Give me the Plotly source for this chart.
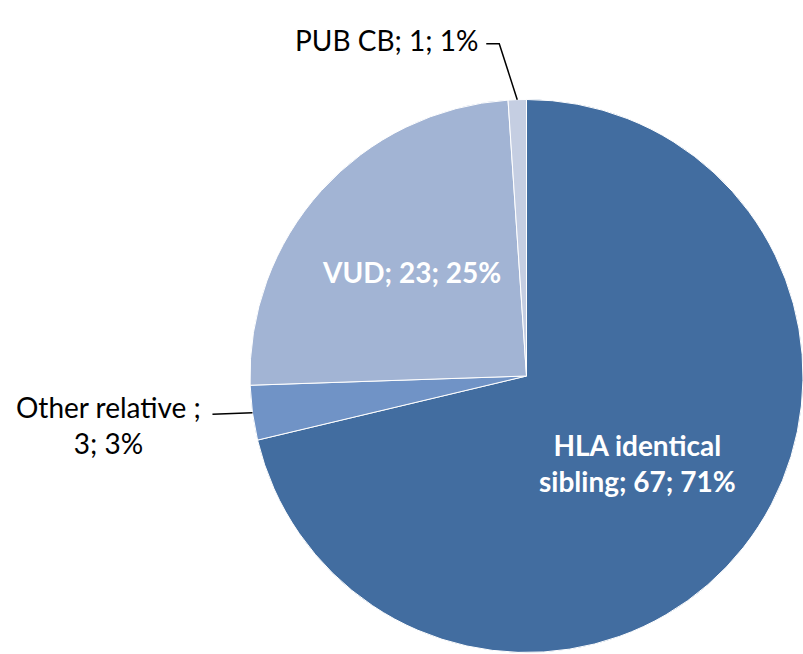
import math
import plotly.graph_objects as go

# ---- data ----
categories = ["HLA identical sibling", "Other relative ", "VUD", "PUB CB"]
values = [67, 3, 23, 1]
percents = [71, 3, 25, 1]
colors = ["#426DA0", "#7093C6", "#A2B4D4", "#C5CEE2"]

W, H = 803, 654
FONT = "Lato"

# pie placement (pixels)
left, top, right, bottom = 250, 98, 803, 654
cx, cy = (left + right) / 2, (top + bottom) / 2
R = min(right - left, bottom - top) / 2


def px(x):
    return x / W


def py(y):
    return 1 - y / H


fig = go.Figure(
    go.Pie(
        labels=categories,
        values=values,
        sort=False,
        direction="clockwise",
        rotation=0,
        marker=dict(colors=colors, line=dict(color="white", width=1)),
        textinfo="none",
        hoverinfo="label+value+percent",
        domain=dict(x=[px(left), px(right)], y=[py(bottom), py(top)]),
        showlegend=False,
    )
)

# mid-angles (clockwise from 12 o'clock) derived from data
total = sum(values)
mids = []
acc = 0
for v in values:
    mids.append((acc + v / 2) / total * 2 * math.pi)
    acc += v


def polar(a, r):
    return cx + r * math.sin(a), cy - r * math.cos(a)


texts = [f"{c.strip() if i != 1 else c}; {v}; {p}%" for i, (c, v, p) in enumerate(zip(categories, values, percents))]
texts[0] = texts[0].replace("identical ", "identical<br>")
texts[1] = texts[1].replace(" ; ", " ;<br>", 1)

annotations = []
shapes = []

# inside labels (HLA, VUD)
for i, rf in ((0, 0.51), (2, 0.56)):
    x, y = polar(mids[i], rf * R)
    annotations.append(dict(
        x=px(x), y=py(y), xref="paper", yref="paper", text="<b>" + texts[i] + "</b>",
        showarrow=False, font=dict(family=FONT, size=28, color="white"),
        xanchor="center", yanchor="middle", align="center",
    ))

# outside label: PUB CB
ax, ay = polar(mids[3], R)
ex, ey = ax - 18, ay - 56
hx = ex - 13
shapes.append(dict(type="path", xref="paper", yref="paper",
                   path=f"M {px(ax)} {py(ay)} L {px(ex)} {py(ey)} L {px(hx)} {py(ey)}",
                   line=dict(color="black", width=1.5)))
annotations.append(dict(
    x=px(hx - 6), y=py(ey - 4), xref="paper", yref="paper", text=texts[3],
    showarrow=False, font=dict(family=FONT, size=28, color="black"),
    xanchor="right", yanchor="middle",
))

# outside label: Other relative
ax, ay = polar(mids[1], R)
lx = ax - 40
shapes.append(dict(type="line", xref="paper", yref="paper",
                   x0=px(ax), y0=py(ay), x1=px(lx), y1=py(ay + 1.5),
                   line=dict(color="black", width=1.5)))
annotations.append(dict(
    x=px(108), y=py(ay + 12), xref="paper", yref="paper", text=texts[1],
    showarrow=False, font=dict(family=FONT, size=28, color="black"),
    xanchor="center", yanchor="middle", align="center",
))

fig.update_layout(
    width=W, height=H,
    margin=dict(l=0, r=0, t=0, b=0),
    paper_bgcolor="white", plot_bgcolor="white",
    annotations=annotations, shapes=shapes,
    font=dict(family=FONT),
)

fig.write_html(
    "out.html",
    config={"displayModeBar": False},
    post_script="document.body.style.margin='0';document.body.style.overflow='hidden';",
)
